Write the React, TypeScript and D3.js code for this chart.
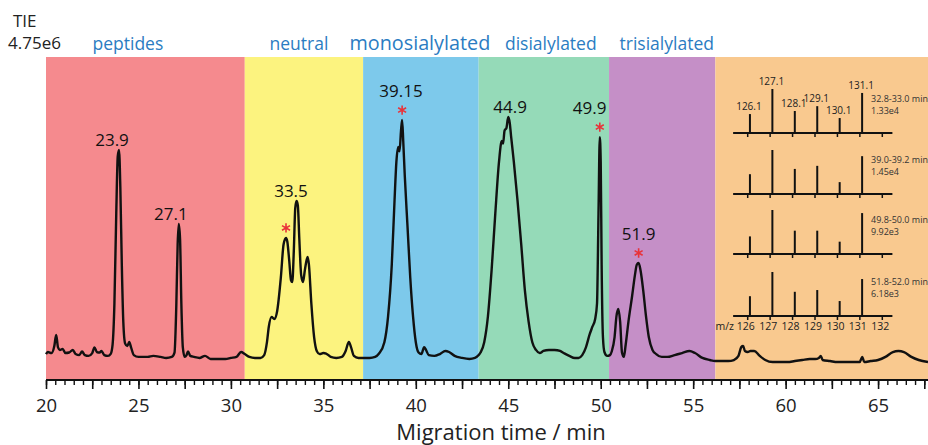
import React, { useEffect, useRef } from 'react';
import * as d3 from 'd3';

// regions of the electropherogram (min)
const regionNames = ['peptides', 'neutral', 'monosialylated', 'disialylated', 'trisialylated'];
const regionLabelTimes = [24.43, 33.68, 40.22, 47.3, 53.57];
const regionEdges = [20, 30.75, 37.15, 43.4, 50.45, 56.2, 67.7];
const regionColors = ['#f58a8e', '#fcf37f', '#7dc9eb', '#95dab8', '#c58fc7', '#f9c98f'];

// TIE trace, [time (min), relative intensity]
const trace: [number, number][] = [
  [20.0, 5.4], [20.1, 6.2], [20.3, 5.8], [20.45, 8.5], [20.55, 12.8], [20.65, 8.0], [20.75, 7.0],
  [20.9, 7.4], [21.05, 5.8], [21.25, 6.0], [21.45, 7.0], [21.6, 5.4], [21.8, 5.0], [21.95, 6.4],
  [22.1, 5.0], [22.3, 4.7], [22.5, 5.8], [22.62, 8.0], [22.75, 6.2], [22.9, 6.0], [23.0, 6.6],
  [23.15, 5.0], [23.35, 4.7], [23.5, 5.5], [23.6, 9], [23.7, 25], [23.8, 60], [23.88, 82],
  [23.95, 84.5], [24.02, 70], [24.1, 40], [24.18, 18], [24.28, 9.5], [24.4, 8.5], [24.5, 10.1],
  [24.6, 8], [24.75, 5.0], [25.0, 4.3], [25.5, 4.3], [25.8, 4.7], [26.2, 4.3], [26.5, 3.9],
  [26.8, 4.3], [26.95, 6], [27.05, 25], [27.12, 48], [27.18, 55.8], [27.25, 50], [27.32, 25],
  [27.4, 8], [27.5, 4.3], [27.6, 5.0], [27.68, 6.4], [27.8, 4.7], [28.0, 4.3], [28.3, 3.9],
  [28.6, 4.7], [28.9, 3.5], [29.3, 3.5], [29.7, 3.5], [30.0, 3.9], [30.3, 4.3], [30.55, 6.2],
  [30.75, 5.4], [31.0, 4.3], [31.3, 3.9], [31.6, 3.9], [31.8, 5.0], [31.95, 10], [32.05, 16],
  [32.2, 19.8], [32.35, 19], [32.5, 22], [32.7, 35], [32.85, 48], [32.98, 50.4], [33.05, 49],
  [33.15, 42], [33.25, 34], [33.32, 33.3], [33.4, 45], [33.48, 62], [33.55, 64.7], [33.62, 63],
  [33.7, 50], [33.8, 36], [33.9, 33.3], [34.0, 38], [34.1, 42], [34.15, 43.0], [34.22, 40],
  [34.35, 25], [34.5, 12], [34.65, 6.5], [34.8, 5.4], [35.0, 5.8], [35.15, 5.6], [35.4, 4.3],
  [35.7, 3.9], [36.0, 4.3], [36.2, 6.5], [36.38, 10.1], [36.5, 8], [36.65, 4.7], [36.9, 3.9],
  [37.2, 3.9], [37.5, 3.9], [37.8, 4.3], [38.0, 5.5], [38.3, 10], [38.5, 20], [38.7, 40],
  [38.85, 65], [38.95, 80], [39.05, 85.7], [39.12, 84], [39.2, 92], [39.26, 96.1], [39.32, 88],
  [39.4, 75], [39.55, 55], [39.7, 35], [39.85, 20], [40.0, 10], [40.15, 6], [40.3, 5.4],
  [40.45, 8.1], [40.55, 7], [40.7, 5.0], [41.0, 4.7], [41.3, 5.4], [41.6, 6.6], [41.8, 6.2],
  [42.1, 4.7], [42.5, 3.9], [42.9, 3.5], [43.2, 3.9], [43.4, 5], [43.5, 6], [43.7, 10],
  [43.9, 20], [44.1, 38], [44.3, 60], [44.5, 80], [44.65, 88], [44.72, 87], [44.8, 92], [44.9, 93],
  [45.0, 97.3], [45.08, 95], [45.15, 90], [45.3, 80], [45.5, 65], [45.7, 48], [45.9, 30],
  [46.1, 18], [46.3, 10], [46.5, 7.0], [46.7, 5.8], [46.9, 6.6], [47.2, 7.0], [47.5, 7.0],
  [47.8, 6.6], [48.0, 5.8], [48.3, 4.7], [48.6, 3.9], [48.8, 3.9], [49.0, 5.0], [49.2, 8],
  [49.4, 13], [49.55, 16], [49.7, 19], [49.8, 25], [49.88, 60], [49.95, 89.5], [50.0, 80],
  [50.05, 40], [50.12, 12], [50.2, 6.2], [50.35, 4.7], [50.5, 5.0], [50.6, 6.5], [50.75, 12],
  [50.85, 20], [50.95, 22.9], [51.05, 18], [51.15, 6], [51.25, 4.3], [51.35, 9], [51.5, 18],
  [51.7, 28], [51.85, 36], [51.95, 40], [52.05, 40.7], [52.15, 38], [52.3, 30], [52.45, 20],
  [52.6, 12], [52.8, 7], [53.0, 5.4], [53.3, 4.3], [53.6, 4.3], [54.0, 5.0], [54.4, 5.8],
  [54.8, 6.6], [55.1, 5.8], [55.5, 3.9], [55.9, 3.1], [56.2, 2.7], [56.5, 2.7], [56.9, 2.7],
  [57.2, 3.1], [57.45, 4.7], [57.6, 8.1], [57.7, 8.5], [57.8, 6.6], [57.95, 6.2], [58.1, 6.6],
  [58.3, 6.6], [58.6, 4.7], [58.9, 3.1], [59.3, 2.3], [59.7, 2.3], [60.1, 2.3], [60.5, 2.7],
  [60.9, 3.1], [61.3, 3.5], [61.6, 3.5], [61.8, 3.9], [61.9, 4.7], [62.0, 3.1], [62.4, 2.7],
  [62.8, 2.3], [63.2, 2.3], [63.6, 2.3], [64.0, 2.3], [64.15, 4.3], [64.25, 2.3], [64.6, 2.7],
  [65.0, 3.1], [65.4, 4.3], [65.8, 6.2], [66.1, 6.6], [66.4, 6.2], [66.8, 4.3], [67.2, 3.1],
  [67.7, 2.3],
];

// peak annotations: label, time where the label sits, apex time
const peakTexts = ['23.9', '27.1', '33.5', '39.15', '44.9', '49.9', '51.9'];
const peakLabelTimes = [23.57, 26.75, 33.25, 39.2, 45.1, 49.4, 52.05];
const peakApexTimes = [23.95, 27.18, 33.55, 39.26, 45.0, 49.95, 52.05];
const starTimes = [32.98, 39.26, 49.95, 52.05];

// reporter ion insets
const reporterMz = [126.1, 127.1, 128.1, 129.1, 130.1, 131.1];
const reporterTicks = [126, 127, 128, 129, 130, 131, 132];
const insetWindows = ['32.8-33.0 min', '39.0-39.2 min', '49.8-50.0 min', '51.8-52.0 min'];
const insetMaxima = ['1.33e4', '1.45e4', '9.92e3', '6.18e3'];
const insetHeights = [
  [43, 100, 50, 61, 34, 91],
  [45, 100, 57, 64, 27, 86],
  [40, 100, 53, 53, 28, 93],
  [45, 100, 55, 59, 34, 84],
];

const FONT = '"Open Sans", sans-serif';

export default function App() {
  const ref = useRef<SVGSVGElement>(null);

  useEffect(() => {
    const svg = d3.select(ref.current);
    svg.selectAll('*').remove();

    const x = d3.scaleLinear().domain([20, 67.7]).range([46, 928]);
    const y = d3.scaleLinear().domain([0, 100]).range([368, 110]);
    const top = 57, bottom = 380;

    // coloured regions
    svg.append('g').selectAll('rect')
      .data(regionColors)
      .enter().append('rect')
      .attr('x', (d, i) => x(regionEdges[i]))
      .attr('width', (d, i) => x(regionEdges[i + 1]) - x(regionEdges[i]))
      .attr('y', top)
      .attr('height', bottom - top)
      .attr('fill', d => d);

    svg.append('g').selectAll('text')
      .data(regionNames)
      .enter().append('text')
      .attr('x', (d, i) => x(regionLabelTimes[i]))
      .attr('y', 50)
      .attr('text-anchor', 'middle')
      .attr('font-family', FONT)
      .attr('font-size', d => d === 'monosialylated' ? 19.8 : 17.5)
      .attr('fill', '#2b7cc2')
      .text(d => d);

    // TIE header
    svg.append('text').attr('x', 13).attr('y', 27).attr('font-family', FONT)
      .attr('font-size', 17).attr('fill', '#222').text('TIE');
    svg.append('text').attr('x', 8).attr('y', 49).attr('font-family', FONT)
      .attr('font-size', 17).attr('fill', '#222').text('4.75e6');

    // trace
    const line = d3.line<[number, number]>()
      .x(d => x(d[0]))
      .y(d => y(d[1]))
      .curve(d3.curveMonotoneX);
    svg.append('path')
      .datum(trace)
      .attr('d', line)
      .attr('fill', 'none')
      .attr('stroke', '#111')
      .attr('stroke-width', 2.4)
      .attr('stroke-linejoin', 'round');

    const apexValue = (t: number) => {
      const near = trace.filter(p => Math.abs(p[0] - t) < 0.04);
      return d3.max(near, p => p[1]) || 0;
    };

    // stars
    const star = d3.symbol().type(d3.symbolAsterisk).size(60);
    svg.append('g').selectAll('path')
      .data(starTimes)
      .enter().append('path')
      .attr('d', star)
      .attr('transform', t => `translate(${x(t)},${y(apexValue(t)) - 10})`)
      .attr('fill', 'none')
      .attr('stroke', '#e8333a')
      .attr('stroke-width', 1.6);

    // peak labels
    svg.append('g').selectAll('text')
      .data(peakTexts)
      .enter().append('text')
      .attr('x', (d, i) => x(peakLabelTimes[i]))
      .attr('y', (d, i) => {
        const t = peakApexTimes[i];
        const starred = starTimes.some(s => Math.abs(s - t) < 0.05);
        return y(apexValue(t)) - (starred ? 23 : 4);
      })
      .attr('text-anchor', 'middle')
      .attr('font-family', FONT)
      .attr('font-size', 17)
      .attr('fill', '#111')
      .text(d => d);

    // x axis
    const axisG = svg.append('g').attr('transform', `translate(0,${bottom})`);
    axisG.append('g')
      .call(d3.axisBottom(x).tickValues(d3.range(20, 67.6, 0.5)).tickSize(5).tickFormat(() => ''))
      .call(g => g.select('.domain').remove())
      .call(g => g.selectAll('line').attr('stroke', '#111').attr('stroke-width', 1.4));
    axisG.append('g')
      .call(d3.axisBottom(x).tickValues(d3.range(20, 67.6, 2.5)).tickSize(9).tickPadding(10)
        .tickFormat(d => (+d % 5 === 0 ? String(d) : '')))
      .call(g => g.select('.domain').remove())
      .call(g => g.selectAll('line').attr('stroke', '#111').attr('stroke-width', 1.6))
      .call(g => g.selectAll('text').attr('font-family', FONT).attr('font-size', 18.5).attr('fill', '#222'));
    axisG.append('line')
      .attr('x1', x(20)).attr('x2', x(67.7))
      .attr('stroke', '#111').attr('stroke-width', 2);

    svg.append('text')
      .attr('x', 501).attr('y', 440)
      .attr('text-anchor', 'middle')
      .attr('font-family', FONT)
      .attr('font-size', 22)
      .attr('fill', '#222')
      .text('Migration time / min');

    // reporter ion insets
    const mz = d3.scaleLinear().domain([126, 132]).range([747.7, 882.3]);
    const h = d3.scaleLinear().domain([0, 100]).range([0, 44]);
    const baselines = [133, 194, 254, 316];

    insetHeights.forEach((heights, p) => {
      const base = baselines[p];
      const g = svg.append('g');
      g.append('line')
        .attr('x1', mz(125.35)).attr('x2', mz(132.45))
        .attr('y1', base).attr('y2', base)
        .attr('stroke', '#111').attr('stroke-width', 2);
      g.selectAll('line.tick')
        .data(reporterTicks)
        .enter().append('line')
        .attr('class', 'tick')
        .attr('x1', d => mz(d)).attr('x2', d => mz(d))
        .attr('y1', base).attr('y2', base + 4)
        .attr('stroke', '#111').attr('stroke-width', 1.5);
      g.selectAll('line.peak')
        .data(heights)
        .enter().append('line')
        .attr('class', 'peak')
        .attr('x1', (d, i) => mz(reporterMz[i])).attr('x2', (d, i) => mz(reporterMz[i]))
        .attr('y1', base).attr('y2', d => base - h(d))
        .attr('stroke', '#111').attr('stroke-width', 2);
      g.append('text')
        .attr('x', 871).attr('y', base - 31)
        .attr('font-family', FONT).attr('font-size', 9).attr('fill', '#333')
        .text(insetWindows[p]);
      g.append('text')
        .attr('x', 871).attr('y', base - 19)
        .attr('font-family', FONT).attr('font-size', 9).attr('fill', '#333')
        .text(insetMaxima[p]);
      if (p === 0) {
        g.selectAll('text.mz')
          .data(heights)
          .enter().append('text')
          .attr('class', 'mz')
          .attr('x', (d, i) => mz(reporterMz[i]) - 1)
          .attr('y', d => base - h(d) - 4)
          .attr('text-anchor', 'middle')
          .attr('font-family', FONT).attr('font-size', 10).attr('fill', '#222')
          .text((d, i) => reporterMz[i].toFixed(1));
      }
      if (p === baselines.length - 1) {
        g.selectAll('text.tl')
          .data(reporterTicks)
          .enter().append('text')
          .attr('class', 'tl')
          .attr('x', d => mz(d) - 2)
          .attr('y', base + 14)
          .attr('text-anchor', 'middle')
          .attr('font-family', FONT).attr('font-size', 10.5).attr('fill', '#222')
          .text(d => String(d));
        g.append('text')
          .attr('x', 734).attr('y', base + 14)
          .attr('text-anchor', 'end')
          .attr('font-family', FONT).attr('font-size', 10.5).attr('fill', '#222')
          .text('m/z');
      }
    });
  }, []);

  return (
    <svg ref={ref} width={928} height={445}
      style={{ position: 'absolute', left: 0, top: 0, background: '#fff' }} />
  );
}
